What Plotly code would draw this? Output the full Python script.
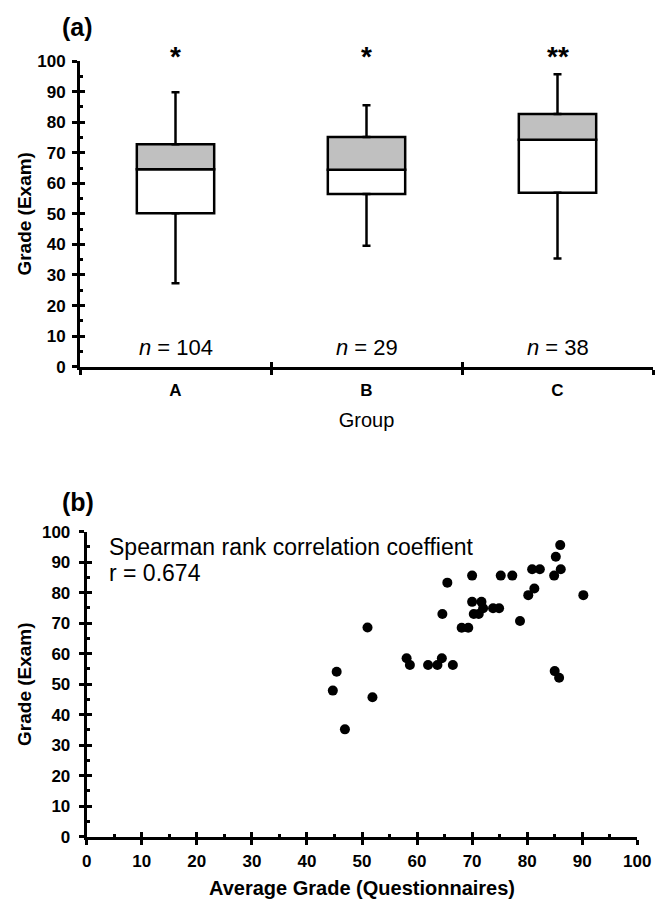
import plotly.graph_objects as go

# ---------------- data: panel (a) ----------------
groups = ["A", "B", "C"]
whisker_low = [27.3, 39.6, 35.4]
q1 = [50.2, 56.5, 56.9]
median = [64.6, 64.4, 74.2]
q3 = [72.8, 75.1, 82.7]
whisker_high = [89.8, 85.5, 95.7]
n_labels = ["104", "29", "38"]
sig_marks = ["*", "*", "**"]

# ---------------- data: panel (b) ----------------
quest_avg = [86.0, 85.2, 86.1, 84.9, 80.9, 82.3, 75.2, 77.3, 70.0, 65.5,
             81.3, 80.2, 90.2, 70.0, 71.7, 72.0, 73.8, 74.9, 64.6, 70.3,
             71.2, 78.7, 68.1, 69.3, 51.0, 58.1, 58.7, 62.0, 63.7, 64.5,
             66.5, 85.0, 85.8, 45.4, 44.7, 51.9, 46.9]
exam_grade = [95.6, 91.8, 87.7, 85.6, 87.7, 87.7, 85.6, 85.6, 85.6, 83.3,
              81.4, 79.2, 79.2, 77.0, 77.0, 74.9, 74.9, 74.9, 73.0, 73.0,
              73.0, 70.7, 68.5, 68.5, 68.6, 58.5, 56.3, 56.3, 56.3, 58.5,
              56.3, 54.3, 52.1, 54.1, 47.9, 45.7, 35.2]

FONT = "Liberation Sans, Arial, sans-serif"
W, H = 657, 901

fig = go.Figure()

# box: lower (white) part Q1->median, upper (grey) part median->Q3
fig.add_trace(go.Bar(
    x=groups, y=[m - a for m, a in zip(median, q1)], base=q1, width=0.405,
    marker=dict(color="white", line=dict(color="black", width=2.5)),
    xaxis="x", yaxis="y", showlegend=False, hoverinfo="skip"))
fig.add_trace(go.Bar(
    x=groups, y=[b - m for b, m in zip(q3, median)], base=median, width=0.405,
    marker=dict(color="#c0c0c0", line=dict(color="black", width=2.5)),
    xaxis="x", yaxis="y", showlegend=False, hoverinfo="skip"))
# whiskers
fig.add_trace(go.Scatter(
    x=groups, y=q3, mode="markers", marker=dict(size=1, color="rgba(0,0,0,0)"),
    error_y=dict(type="data", symmetric=False,
                 array=[h - b for h, b in zip(whisker_high, q3)],
                 arrayminus=[0] * len(groups),
                 color="black", thickness=2.5, width=4),
    xaxis="x", yaxis="y", showlegend=False, hoverinfo="skip"))
fig.add_trace(go.Scatter(
    x=groups, y=q1, mode="markers", marker=dict(size=1, color="rgba(0,0,0,0)"),
    error_y=dict(type="data", symmetric=False,
                 array=[0] * len(groups),
                 arrayminus=[a - l for a, l in zip(q1, whisker_low)],
                 color="black", thickness=2.5, width=4),
    xaxis="x", yaxis="y", showlegend=False, hoverinfo="skip"))

# scatter panel (b)
fig.add_trace(go.Scatter(
    x=quest_avg, y=exam_grade, mode="markers",
    marker=dict(size=10, color="black"),
    xaxis="x2", yaxis="y2", showlegend=False, cliponaxis=False))

# dummy traces for overlay axes (inner tick halves)
for xa, ya in [("x3", "y"), ("x", "y3"), ("x4", "y2"), ("x2", "y4")]:
    fig.add_trace(go.Scatter(x=[None], y=[None], xaxis=xa, yaxis=ya,
                             showlegend=False, hoverinfo="skip", mode="markers"))

xa_dom = [80 / W, 653 / W]
ya_dom = [1 - 366.7 / H, 1 - 61 / H]
xb_dom = [86.7 / W, 637.3 / W]
yb_dom = [1 - 836.7 / H, 1 - 531.7 / H]

tick_font = dict(family=FONT, size=17, color="black", weight="bold")
common = dict(showgrid=False, zeroline=False, showline=True, linecolor="black",
              linewidth=3, ticks="outside", ticklen=5, tickwidth=2.5,
              tickcolor="black", tickfont=tick_font, automargin=False)
inner = dict(showgrid=False, zeroline=False, showline=False, showticklabels=False,
             ticks="inside", ticklen=5, tickwidth=2.5, tickcolor="black",
             automargin=False)

fig.update_layout(
    template="none",
    width=W, height=H, margin=dict(l=0, r=0, t=0, b=0, autoexpand=False),
    paper_bgcolor="white", plot_bgcolor="white", barmode="overlay",
    font=dict(family=FONT, color="black"),
    xaxis=dict(domain=xa_dom, anchor="y", type="category", range=[-0.5, 2.5],
               tickson="boundaries", ticklabelstandoff=6,
               title=dict(text="Group", font=dict(family=FONT, size=20), standoff=14),
               **common),
    xaxis3=dict(domain=xa_dom, overlaying="x", anchor="y", type="linear",
                range=[-0.5, 2.5], tickmode="linear", tick0=-0.5, dtick=1, **inner),
    yaxis=dict(domain=ya_dom, anchor="x", range=[0, 100], dtick=10,
               ticklabelstandoff=3,
               title=dict(text="Grade (Exam)",
                          font=dict(family=FONT, size=19, weight="bold"), standoff=1),
               **common),
    yaxis3=dict(domain=ya_dom, overlaying="y", anchor="x", range=[0, 100],
                tickmode="linear", tick0=0, dtick=10,
                minor=dict(ticks="inside", dtick=5, ticklen=3, tickwidth=2.5,
                           tickcolor="black"), **inner),
    xaxis2=dict(domain=xb_dom, anchor="y2", range=[0, 100], dtick=10,
                ticklabelstandoff=2,
                title=dict(text="Average Grade (Questionnaires)",
                           font=dict(family=FONT, size=20, weight="bold"), standoff=11),
                **common),
    xaxis4=dict(domain=xb_dom, overlaying="x2", anchor="y2", range=[0, 100],
                tickmode="linear", tick0=0, dtick=10,
                minor=dict(ticks="inside", dtick=5, ticklen=3, tickwidth=2.5,
                           tickcolor="black"), **inner),
    yaxis2=dict(domain=yb_dom, anchor="x2", range=[0, 100], dtick=10,
                ticklabelstandoff=5,
                title=dict(text="Grade (Exam)",
                           font=dict(family=FONT, size=19, weight="bold"), standoff=6),
                **common),
    yaxis4=dict(domain=yb_dom, overlaying="y2", anchor="x2", range=[0, 100],
                tickmode="linear", tick0=0, dtick=10,
                minor=dict(ticks="inside", dtick=5, ticklen=3, tickwidth=2.5,
                           tickcolor="black"), **inner),
)

ann = []
ann.append(dict(text="<b>(a)</b>", x=77 / W, y=1 - 27 / H, xref="paper", yref="paper",
                xanchor="center", yanchor="middle",
                showarrow=False, font=dict(family=FONT, size=25)))
ann.append(dict(text="<b>(b)</b>", x=78 / W, y=1 - 502 / H, xref="paper", yref="paper",
                xanchor="center", yanchor="middle",
                showarrow=False, font=dict(family=FONT, size=25)))
for g, n, s in zip(groups, n_labels, sig_marks):
    ann.append(dict(text="<i>n</i> = " + n, x=g, y=6.4, xref="x", yref="y",
                    showarrow=False, xanchor="center", yanchor="middle",
                    font=dict(family=FONT, size=22)))
    ann.append(dict(text="<b>" + s + "</b>", x=g, y=1 - 57 / H, xref="x", yref="paper",
                    showarrow=False, xanchor="center", yanchor="middle",
                    font=dict(family=FONT, size=28)))
ann.append(dict(text="Spearman rank correlation coeffient", x=3.7, y=95.0,
                xref="x2", yref="y2", xanchor="left", yanchor="middle",
                showarrow=False, font=dict(family=FONT, size=23)))
ann.append(dict(text="r = 0.674", x=3.7, y=86.5,
                xref="x2", yref="y2", xanchor="left", yanchor="middle",
                showarrow=False, font=dict(family=FONT, size=23)))
fig.update_layout(annotations=ann)

fig.write_html("out.html")
